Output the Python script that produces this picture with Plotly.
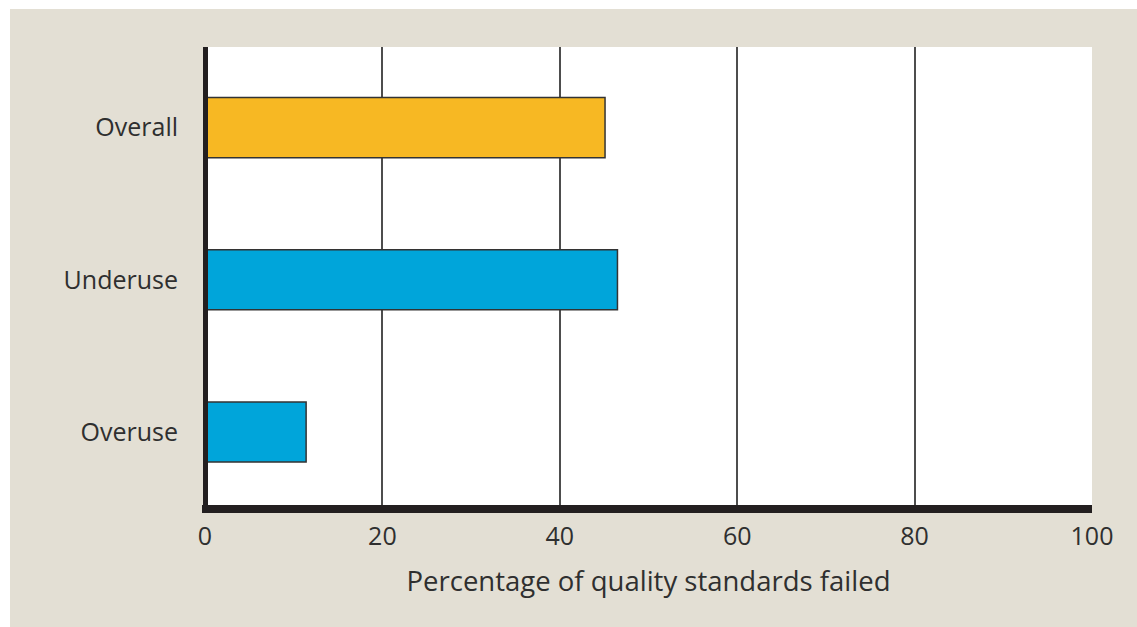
import plotly.graph_objects as go

categories = ["Overuse", "Underuse", "Overall"]
values = [11.4, 46.5, 45.1]
bar_colors = ["#00A5DA", "#00A5DA", "#F7B823"]
x_ticks = [0, 20, 40, 60, 80, 100]

W, H = 1137, 627
ml, mr, mt, mb = 205, 45, 47, 122
PW, PH = W - ml - mr, H - mt - mb


def px_x(p):
    return (p - ml) / PW


def px_y(p):
    return (H - mb - p) / PH


fig = go.Figure()
fig.add_trace(go.Bar(
    y=categories, x=values, orientation="h",
    marker=dict(color=bar_colors, line=dict(color="#333333", width=1.5)),
    width=0.395,
))

font = "'Open Sans', sans-serif"
fig.update_layout(
    width=W, height=H,
    margin=dict(l=ml, r=mr, t=mt, b=mb, pad=0),
    paper_bgcolor="#E3DFD4",
    plot_bgcolor="#FFFFFF",
    showlegend=False,
    font=dict(family=font, size=25, color="#2f2f2f"),
    xaxis=dict(
        range=[0, 100], tickvals=x_ticks, ticktext=[str(v) for v in x_ticks],
        showgrid=True, gridcolor="#4d4d4d", gridwidth=2,
        zeroline=False, showline=False,
        ticks="outside", ticklen=9, tickcolor="rgba(0,0,0,0)",
        tickfont=dict(size=25),
        title=dict(text="Percentage of quality standards failed", standoff=20,
                   font=dict(size=27.5)),
        fixedrange=True,
    ),
    yaxis=dict(
        range=[-0.48, 2.53],
        showgrid=False, zeroline=False, showline=False,
        ticks="outside", ticklen=21, tickcolor="rgba(0,0,0,0)",
        tickfont=dict(size=25),
        fixedrange=True,
    ),
    shapes=[
        # white margins of the page
        dict(type="rect", xref="paper", yref="paper",
             x0=px_x(0), x1=px_x(10), y0=px_y(H), y1=px_y(0),
             fillcolor="#FFFFFF", line=dict(width=0), layer="below"),
        dict(type="rect", xref="paper", yref="paper",
             x0=px_x(0), x1=px_x(W), y0=px_y(9), y1=px_y(0),
             fillcolor="#FFFFFF", line=dict(width=0), layer="below"),
        # axis lines
        dict(type="rect", xref="paper", yref="paper",
             x0=px_x(202), x1=px_x(1092), y0=px_y(513), y1=px_y(505),
             fillcolor="#231F20", line=dict(width=0), layer="above"),
        dict(type="rect", xref="paper", yref="paper",
             x0=px_x(203), x1=px_x(208), y0=px_y(513), y1=px_y(47),
             fillcolor="#231F20", line=dict(width=0), layer="above"),
    ],
)

fig.write_html("out.html")
